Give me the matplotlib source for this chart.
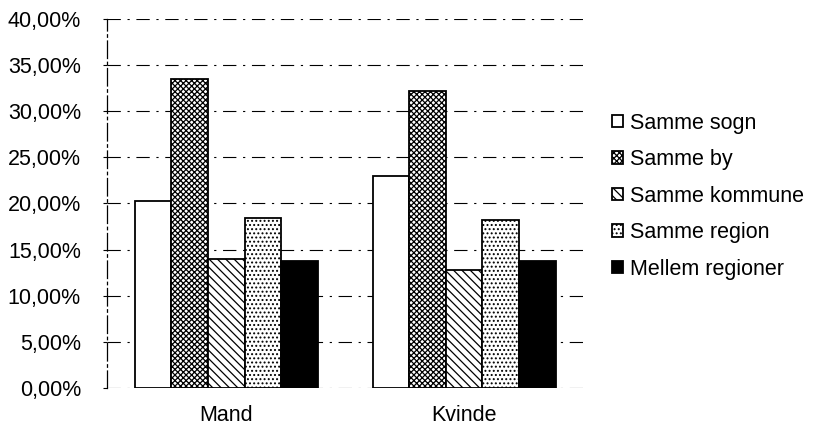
import matplotlib
matplotlib.use("Agg")
import matplotlib.pyplot as plt
import numpy as np
from matplotlib.ticker import FuncFormatter

categories = ["Mand", "Kvinde"]
series_names = ["Samme sogn", "Samme by", "Samme kommune", "Samme region", "Mellem regioner"]
values = {
    "Samme sogn":      [20.25, 22.95],
    "Samme by":        [33.45, 32.2],
    "Samme kommune":   [13.95, 12.8],
    "Samme region":    [18.4, 18.2],
    "Mellem regioner": [13.75, 13.75],
}
yticks = [0, 5, 10, 15, 20, 25, 30, 35, 40]

hatches = ["", "xxxxxx", "\\\\\\\\", "....", ""]
faces = ["white", "white", "white", "white", "black"]

plt.rcParams['font.family'] = ['Liberation Sans', 'DejaVu Sans']
plt.rcParams['hatch.linewidth'] = 0.9

fig = plt.figure(figsize=(8.19, 4.37), dpi=100)
ax = fig.add_axes([0.131, 0.112, 0.581, 0.845])

x = np.arange(len(categories))
w = 0.154
for i, name in enumerate(series_names):
    off = (i - 2) * w
    ax.bar(x + off, values[name], width=w, facecolor=faces[i], edgecolor="black",
           hatch=hatches[i], linewidth=1.3, label=name, zorder=3)

ax.set_xlim(-0.5, 1.5)
ax.set_ylim(0, 40)
ax.set_yticks(yticks)
ax.yaxis.set_major_formatter(FuncFormatter(lambda v, p: f"{v:.2f}".replace(".", ",") + "%"))
ax.set_xticks(x)
ax.set_xticklabels(categories)
ax.tick_params(axis='y', labelsize=15.5, length=3, direction='out', pad=16)
ax.tick_params(axis='x', labelsize=15.5, length=0, pad=12)
ax.grid(axis='y', color='black', linewidth=0.8, linestyle=(0, (12, 6, 2, 6)), zorder=0)
for s in ["top", "right", "bottom"]:
    ax.spines[s].set_visible(False)
ax.spines["left"].set_linewidth(0.9)
ax.spines["left"].set_linestyle((0, (14, 3, 2, 3)))

leg = ax.legend(loc="center left", bbox_to_anchor=(1.02, 0.52), frameon=False,
                fontsize=15.5, handlelength=0.5, handleheight=0.5, handletextpad=0.35,
                labelspacing=0.72)

fig.savefig("out.png", dpi=100)
